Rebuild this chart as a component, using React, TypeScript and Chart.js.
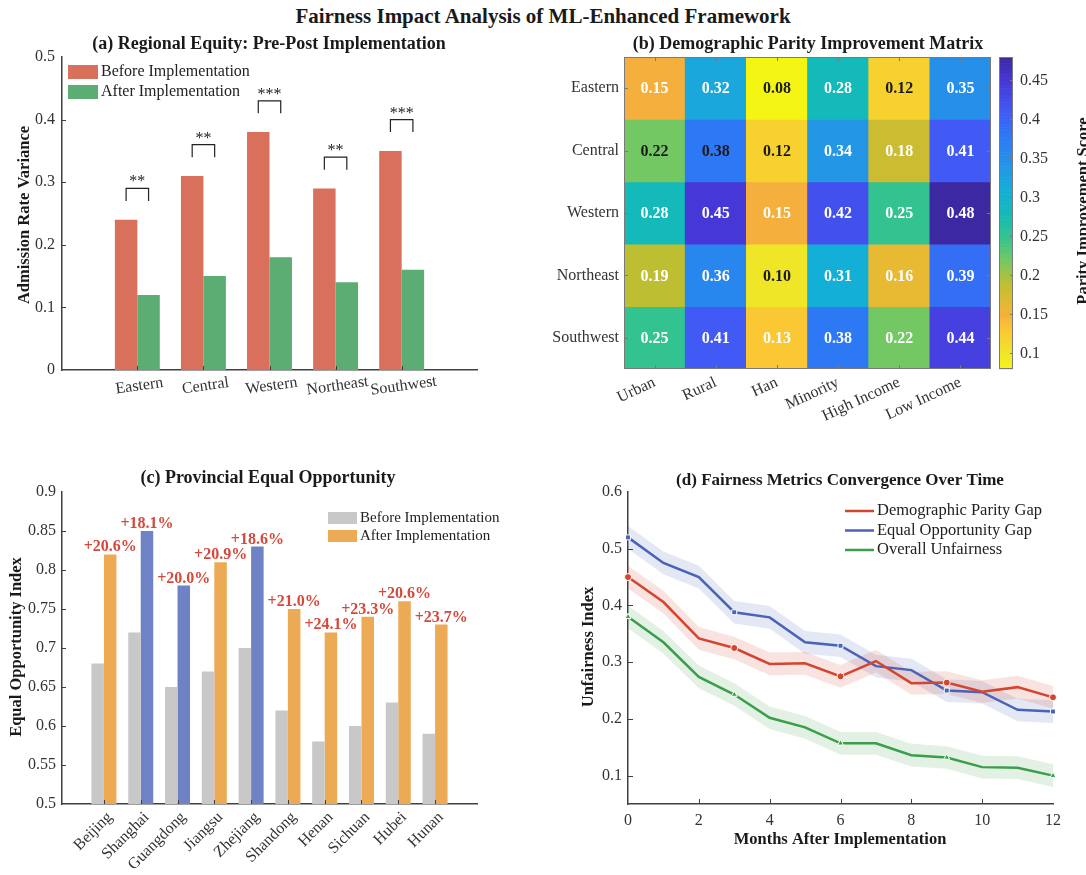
import React, { useEffect, useRef } from 'react';
import { Chart, registerables } from 'chart.js';

Chart.register(...registerables);

const SERIF = '"Liberation Serif", "Times New Roman", Times, serif';
Chart.defaults.font.family = SERIF;
Chart.defaults.color = '#333333';

const AXIS_COLOR = '#404040';
const TEXT_COLOR = '#333333';
const TITLE_COLOR = '#1a1a1a';

// ---------- Panel (a) data ----------
const regionNames = ['Eastern', 'Central', 'Western', 'Northeast', 'Southwest'];
const regionBefore = [0.24, 0.31, 0.38, 0.29, 0.35];
const regionAfter = [0.12, 0.15, 0.18, 0.14, 0.16];
const regionStars = ['**', '**', '***', '**', '***'];
const regionTicks = [0, 0.1, 0.2, 0.3, 0.4, 0.5];

// ---------- Panel (b) data ----------
const groupNames = ['Urban', 'Rural', 'Han', 'Minority', 'High Income', 'Low Income'];
const parityEastern = [0.15, 0.32, 0.08, 0.28, 0.12, 0.35];
const parityCentral = [0.22, 0.38, 0.12, 0.34, 0.18, 0.41];
const parityWestern = [0.28, 0.45, 0.15, 0.42, 0.25, 0.48];
const parityNortheast = [0.19, 0.36, 0.1, 0.31, 0.16, 0.39];
const paritySouthwest = [0.25, 0.41, 0.13, 0.38, 0.22, 0.44];
const parityRows = [parityEastern, parityCentral, parityWestern, parityNortheast, paritySouthwest];
const parityDarkLabels = ['0-2', '0-4', '1-0', '1-1', '1-2', '3-2'];
const colorbarTicks = [0.1, 0.15, 0.2, 0.25, 0.3, 0.35, 0.4, 0.45];
const colorbarMin = 0.08;
const colorbarMax = 0.48;

// ---------- Panel (c) data ----------
const provinceNames = ['Beijing', 'Shanghai', 'Guangdong', 'Jiangsu', 'Zhejiang', 'Shandong', 'Henan', 'Sichuan', 'Hubei', 'Hunan'];
const provinceBefore = [0.68, 0.72, 0.65, 0.67, 0.7, 0.62, 0.58, 0.6, 0.63, 0.59];
const provinceAfter = [0.82, 0.85, 0.78, 0.81, 0.83, 0.75, 0.72, 0.74, 0.76, 0.73];
const highlightedProvinces = ['Shanghai', 'Guangdong', 'Zhejiang'];
const provinceTicks = [0.5, 0.55, 0.6, 0.65, 0.7, 0.75, 0.8, 0.85, 0.9];

// ---------- Panel (d) data ----------
const months = [0, 1, 2, 3, 4, 5, 6, 7, 8, 9, 10, 11, 12];
const demographicParityGap = [0.45, 0.406, 0.342, 0.325, 0.297, 0.298, 0.275, 0.302, 0.263, 0.264, 0.248, 0.256, 0.238];
const equalOpportunityGap = [0.52, 0.475, 0.45, 0.388, 0.379, 0.335, 0.329, 0.293, 0.286, 0.25, 0.247, 0.216, 0.213];
const overallUnfairness = [0.38, 0.335, 0.274, 0.243, 0.202, 0.185, 0.157, 0.157, 0.136, 0.132, 0.115, 0.114, 0.1];
const bandHalfWidth = 0.02;
const markerMonths = [0, 3, 6, 9, 12];
const monthTicks = [0, 2, 4, 6, 8, 10, 12];
const unfairTicks = [0.1, 0.2, 0.3, 0.4, 0.5, 0.6];

// ---------- colours ----------
const RED_BAR = '#D9705B';
const GREEN_BAR = '#5BAD73';
const GRAY_BAR = '#C8C8C8';
const ORANGE_BAR = '#EDAA55';
const BLUE_BAR = '#6F82C6';
const PCT_RED = '#D5483A';
const LINE_RED = '#D4452F';
const LINE_BLUE = '#4863B8';
const LINE_GREEN = '#3A9E4B';

// parula-like colormap (position from high value end -> low value end)
const CMAP: [number, number, number, number][] = [
  [0, 60, 40, 160],
  [0.075, 70, 55, 215],
  [0.175, 65, 90, 245],
  [0.25, 45, 120, 245],
  [0.35, 35, 150, 230],
  [0.425, 20, 175, 215],
  [0.5, 20, 185, 185],
  [0.575, 50, 195, 145],
  [0.65, 115, 200, 100],
  [0.725, 190, 190, 50],
  [0.8, 232, 185, 50],
  [0.825, 245, 175, 60],
  [0.875, 250, 200, 50],
  [0.95, 240, 230, 40],
  [1, 245, 245, 20],
];

function parulaRev(v: number): string {
  const s = 1 - Math.min(1, Math.max(0, (v - colorbarMin) / (colorbarMax - colorbarMin)));
  let i = 0;
  while (i < CMAP.length - 2 && s > CMAP[i + 1][0]) i++;
  const a = CMAP[i];
  const b = CMAP[i + 1];
  const f = Math.min(1, Math.max(0, (s - a[0]) / (b[0] - a[0])));
  const c = [1, 2, 3].map((k) => Math.round(a[k] + (b[k] - a[k]) * f));
  return `rgb(${c[0]},${c[1]},${c[2]})`;
}

function fmtTick(v: any) {
  return String(+Number(v).toFixed(2));
}

type TextOpts = {
  size?: number;
  bold?: boolean;
  color?: string;
  align?: CanvasTextAlign;
  baseline?: CanvasTextBaseline;
  angle?: number;
};

function drawText(ctx: CanvasRenderingContext2D, text: string, x: number, y: number, o: TextOpts = {}) {
  ctx.save();
  ctx.font = `${o.bold ? 'bold ' : ''}${o.size ?? 16}px ${SERIF}`;
  ctx.fillStyle = o.color ?? TEXT_COLOR;
  ctx.textAlign = o.align ?? 'center';
  ctx.textBaseline = o.baseline ?? 'middle';
  ctx.translate(x, y);
  if (o.angle) ctx.rotate((o.angle * Math.PI) / 180);
  ctx.fillText(text, 0, 0);
  ctx.restore();
}

function inwardTicks(chart: any, xVals: number[], yVals: number[], len = 5) {
  const { ctx, chartArea } = chart;
  const xs = chart.scales.x;
  const ys = chart.scales.y;
  ctx.save();
  ctx.strokeStyle = AXIS_COLOR;
  ctx.lineWidth = 1;
  ctx.beginPath();
  xVals.forEach((v) => {
    const px = Math.round(xs.getPixelForValue(v)) + 0.5;
    ctx.moveTo(px, chartArea.bottom);
    ctx.lineTo(px, chartArea.bottom - len);
  });
  yVals.forEach((v) => {
    const py = Math.round(ys.getPixelForValue(v)) + 0.5;
    ctx.moveTo(chartArea.left, py);
    ctx.lineTo(chartArea.left + len, py);
  });
  ctx.stroke();
  ctx.restore();
}

function fixSize(prop: 'width' | 'height', size: number) {
  return (s: any) => {
    s[prop] = size;
    s.paddingTop = 0;
    s.paddingBottom = 0;
    s.paddingLeft = 0;
    s.paddingRight = 0;
  };
}

const baseOptions = {
  responsive: false,
  maintainAspectRatio: false,
  animation: false,
  devicePixelRatio: 1,
  events: [] as any[],
};

const TITLE_SIZE = 18;
const LABEL_SIZE = 16.5;

// ---------- Panel (a) ----------
const regionalPlugin = {
  id: 'regionalPlugin',
  afterDraw(chart: any) {
    const { ctx, chartArea } = chart;
    const xs = chart.scales.x;
    const ys = chart.scales.y;
    drawText(ctx, '(a) Regional Equity: Pre-Post Implementation', 269, 14, { bold: true, size: TITLE_SIZE, color: TITLE_COLOR });
    drawText(ctx, 'Admission Rate Variance', 25, 185, { bold: true, size: LABEL_SIZE, color: TITLE_COLOR, angle: -90 });
    regionNames.forEach((n, i) => {
      drawText(ctx, n, xs.getPixelForValue(i + 1) + 2, chartArea.bottom + 16, { size: 16, angle: -8 });
    });
    // legend
    ctx.fillStyle = RED_BAR;
    ctx.fillRect(68, 35, 30, 14);
    ctx.fillStyle = GREEN_BAR;
    ctx.fillRect(68, 55, 30, 14);
    drawText(ctx, 'Before Implementation', 101, 42, { size: 16, align: 'left', color: '#222' });
    drawText(ctx, 'After Implementation', 101, 62, { size: 16, align: 'left', color: '#222' });
    // significance brackets
    const m0 = chart.getDatasetMeta(0);
    const m1 = chart.getDatasetMeta(1);
    ctx.save();
    ctx.strokeStyle = '#222';
    ctx.lineWidth = 1.2;
    regionBefore.forEach((b, i) => {
      const x0 = m0.data[i].x;
      const x1 = m1.data[i].x;
      const yTop = ys.getPixelForValue(b + 0.05);
      const yLeg = ys.getPixelForValue(b + 0.03);
      ctx.beginPath();
      ctx.moveTo(x0, yLeg);
      ctx.lineTo(x0, yTop);
      ctx.lineTo(x1, yTop);
      ctx.lineTo(x1, yLeg);
      ctx.stroke();
      drawText(ctx, regionStars[i], (x0 + x1) / 2, yTop - 2, { size: 16, baseline: 'alphabetic', color: '#222' });
    });
    ctx.restore();
    inwardTicks(chart, regionNames.map((_, i) => i + 1), regionTicks.slice(1, -1), 4);
  },
};

function buildRegional(): any {
  return {
    type: 'bar',
    data: {
      datasets: [
        {
          label: 'Before Implementation',
          data: regionNames.map((_, i) => ({ x: i + 1, y: regionBefore[i] })),
          backgroundColor: RED_BAR,
          categoryPercentage: 0.68,
          barPercentage: 1,
        },
        {
          label: 'After Implementation',
          data: regionNames.map((_, i) => ({ x: i + 1, y: regionAfter[i] })),
          backgroundColor: GREEN_BAR,
          categoryPercentage: 0.68,
          barPercentage: 1,
        },
      ],
    },
    options: {
      ...baseOptions,
      layout: { padding: { left: 0, right: 63, top: 27, bottom: 0 } },
      plugins: { legend: { display: false }, tooltip: { enabled: false } },
      scales: {
        x: {
          type: 'linear',
          offset: false,
          min: -0.14,
          max: 6.14,
          afterBuildTicks: (s: any) => {
            s.ticks = regionNames.map((_, i) => ({ value: i + 1 }));
          },
          ticks: { display: false },
          grid: { display: false, drawTicks: false, offset: false },
          border: { color: AXIS_COLOR, width: 1.5 },
          afterFit: fixSize('height', 60),
        },
        y: {
          type: 'linear',
          min: 0,
          max: 0.5,
          afterBuildTicks: (s: any) => {
            s.ticks = regionTicks.map((v) => ({ value: v }));
          },
          ticks: { font: { size: 16 }, color: TEXT_COLOR, padding: 7, callback: fmtTick },
          grid: { display: false, drawTicks: false },
          border: { color: AXIS_COLOR, width: 1.5 },
          afterFit: fixSize('width', 62),
        },
      },
    },
    plugins: [regionalPlugin],
  };
}

// ---------- Panel (b) ----------
const heatPlugin = {
  id: 'heatPlugin',
  afterDraw(chart: any) {
    const { ctx, chartArea } = chart;
    const xs = chart.scales.x;
    const ys = chart.scales.y;
    const cb = chart.scales.cb;
    drawText(ctx, '(b) Demographic Parity Improvement Matrix', 268, 14, { bold: true, size: TITLE_SIZE, color: TITLE_COLOR });
    parityRows.forEach((row, r) => {
      row.forEach((v, c) => {
        const dark = parityDarkLabels.includes(`${r}-${c}`);
        drawText(ctx, v.toFixed(2), xs.getPixelForValue(c), ys.getPixelForValue(r + 0.5) + 1, {
          bold: true,
          size: 16,
          color: dark ? '#1a1a1a' : '#ffffff',
        });
      });
    });
    // frame
    ctx.save();
    ctx.strokeStyle = '#7a7a7a';
    ctx.lineWidth = 1;
    ctx.strokeRect(chartArea.left + 0.5, chartArea.top + 0.5, chartArea.right - chartArea.left - 1, chartArea.bottom - chartArea.top - 1);
    ctx.beginPath();
    groupNames.forEach((_, c) => {
      const px = Math.round(xs.getPixelForValue(c)) + 0.5;
      ctx.moveTo(px, chartArea.bottom);
      ctx.lineTo(px, chartArea.bottom - 4);
      ctx.moveTo(px, chartArea.top);
      ctx.lineTo(px, chartArea.top + 4);
    });
    parityRows.forEach((_, r) => {
      const py = Math.round(ys.getPixelForValue(r + 0.5)) + 0.5;
      ctx.moveTo(chartArea.left, py);
      ctx.lineTo(chartArea.left + 4, py);
      ctx.moveTo(chartArea.right, py);
      ctx.lineTo(chartArea.right - 4, py);
    });
    ctx.stroke();
    // colorbar
    const x0 = chartArea.right + 8;
    const w = 14;
    const steps = 200;
    for (let k = 0; k < steps; k++) {
      const v0 = colorbarMin + ((colorbarMax - colorbarMin) * k) / steps;
      const v1 = colorbarMin + ((colorbarMax - colorbarMin) * (k + 1)) / steps;
      const y0 = cb.getPixelForValue(v0);
      const y1 = cb.getPixelForValue(v1);
      ctx.fillStyle = parulaRev((v0 + v1) / 2);
      ctx.fillRect(x0, y1, w, y0 - y1 + 0.6);
    }
    const yTop = cb.getPixelForValue(colorbarMax);
    const yBot = cb.getPixelForValue(colorbarMin);
    ctx.strokeStyle = '#7a7a7a';
    ctx.strokeRect(x0 + 0.5, yTop + 0.5, w - 1, yBot - yTop - 1);
    ctx.beginPath();
    colorbarTicks.forEach((v) => {
      const py = Math.round(cb.getPixelForValue(v)) + 0.5;
      ctx.moveTo(x0 + w, py);
      ctx.lineTo(x0 + w - 3, py);
    });
    ctx.stroke();
    ctx.restore();
    drawText(ctx, 'Parity Improvement Score', 548, 181, { bold: true, size: LABEL_SIZE, color: TITLE_COLOR, angle: -90, baseline: 'alphabetic' });
  },
};

function buildHeatmap(): any {
  return {
    type: 'bar',
    data: {
      labels: groupNames,
      datasets: parityRows.map((row, r) => ({
        label: regionNames[r],
        data: row.map(() => [r, r + 1]),
        backgroundColor: row.map((v) => parulaRev(v)),
        borderWidth: 0,
        categoryPercentage: 1,
        barPercentage: 1,
        grouped: false,
      })),
    },
    options: {
      ...baseOptions,
      layout: { padding: { left: 0, right: 0, top: 27, bottom: 0 } },
      plugins: { legend: { display: false }, tooltip: { enabled: false } },
      scales: {
        x: {
          type: 'category',
          offset: true,
          ticks: { font: { size: 16 }, color: TEXT_COLOR, minRotation: 25, maxRotation: 25, padding: 4, autoSkip: false },
          grid: { display: false, drawTicks: false },
          border: { display: false },
          afterFit: fixSize('height', 61),
        },
        y: {
          type: 'linear',
          min: 0,
          max: 5,
          reverse: true,
          afterBuildTicks: (s: any) => {
            s.ticks = regionNames.map((_, i) => ({ value: i + 0.5 }));
          },
          ticks: { font: { size: 16 }, color: TEXT_COLOR, padding: 5, callback: (v: any) => regionNames[Math.floor(v)] },
          grid: { display: false, drawTicks: false },
          border: { display: false },
          afterFit: fixSize('width', 84),
        },
        cb: {
          type: 'linear',
          position: 'right',
          min: colorbarMin,
          max: colorbarMax,
          afterBuildTicks: (s: any) => {
            s.ticks = colorbarTicks.map((v) => ({ value: v }));
          },
          ticks: { font: { size: 16 }, color: TEXT_COLOR, padding: 29, callback: fmtTick },
          grid: { display: false, drawTicks: false },
          border: { display: false },
          afterFit: fixSize('width', 95),
        },
      },
    },
    plugins: [heatPlugin],
  };
}

// ---------- Panel (c) ----------
const provincePlugin = {
  id: 'provincePlugin',
  afterDraw(chart: any) {
    const { ctx } = chart;
    drawText(ctx, '(c) Provincial Equal Opportunity', 268, 18, { bold: true, size: TITLE_SIZE, color: TITLE_COLOR });
    drawText(ctx, 'Equal Opportunity Index', 17, 187, { bold: true, size: LABEL_SIZE, color: TITLE_COLOR, angle: -90 });
    ctx.fillStyle = GRAY_BAR;
    ctx.fillRect(328, 52, 29, 12);
    ctx.fillStyle = ORANGE_BAR;
    ctx.fillRect(328, 70, 29, 12);
    drawText(ctx, 'Before Implementation', 360, 58, { size: 15, align: 'left', color: '#222' });
    drawText(ctx, 'After Implementation', 360, 76, { size: 15, align: 'left', color: '#222' });
    const m1 = chart.getDatasetMeta(1);
    provinceAfter.forEach((a, i) => {
      const pct = '+' + ((a / provinceBefore[i] - 1) * 100).toFixed(1) + '%';
      const el = m1.data[i];
      drawText(ctx, pct, el.x, el.y - 3, { bold: true, size: 16, color: PCT_RED, baseline: 'alphabetic' });
    });
    inwardTicks(chart, provinceNames.map((_, i) => i + 1), provinceTicks.slice(1, -1), 4);
  },
};

function buildProvince(): any {
  return {
    type: 'bar',
    data: {
      datasets: [
        {
          label: 'Before Implementation',
          data: provinceNames.map((_, i) => ({ x: i + 1, y: provinceBefore[i] })),
          backgroundColor: GRAY_BAR,
          categoryPercentage: 0.68,
          barPercentage: 1,
        },
        {
          label: 'After Implementation',
          data: provinceNames.map((_, i) => ({ x: i + 1, y: provinceAfter[i] })),
          backgroundColor: provinceNames.map((n) => (highlightedProvinces.includes(n) ? BLUE_BAR : ORANGE_BAR)),
          categoryPercentage: 0.68,
          barPercentage: 1,
        },
      ],
    },
    options: {
      ...baseOptions,
      layout: { padding: { left: 0, right: 63, top: 32, bottom: 0 } },
      plugins: { legend: { display: false }, tooltip: { enabled: false } },
      scales: {
        x: {
          type: 'linear',
          offset: false,
          min: -0.14,
          max: 11.14,
          afterBuildTicks: (s: any) => {
            s.ticks = provinceNames.map((_, i) => ({ value: i + 1 }));
          },
          ticks: {
            font: { size: 16 },
            color: TEXT_COLOR,
            minRotation: 45,
            maxRotation: 45,
            autoSkip: false,
            padding: 4,
            labelOffset: 6,
            callback: (v: any) => provinceNames[Math.round(v) - 1],
          },
          grid: { display: false, drawTicks: false, offset: false },
          border: { color: AXIS_COLOR, width: 1.5 },
          afterFit: fixSize('height', 71),
        },
        y: {
          type: 'linear',
          min: 0.5,
          max: 0.9,
          afterBuildTicks: (s: any) => {
            s.ticks = provinceTicks.map((v) => ({ value: v }));
          },
          ticks: { font: { size: 16 }, color: TEXT_COLOR, padding: 6, callback: fmtTick },
          grid: { display: false, drawTicks: false },
          border: { color: AXIS_COLOR, width: 1.5 },
          afterFit: fixSize('width', 62),
        },
      },
    },
    plugins: [provincePlugin],
  };
}

// ---------- Panel (d) ----------
const convergencePlugin = {
  id: 'convergencePlugin',
  afterDraw(chart: any) {
    const { ctx } = chart;
    drawText(ctx, '(d) Fairness Metrics Convergence Over Time', 280, 21, { bold: true, size: 17, color: TITLE_COLOR });
    drawText(ctx, 'Months After Implementation', 280, 380, { bold: true, size: LABEL_SIZE, color: TITLE_COLOR });
    drawText(ctx, 'Unfairness Index', 29, 187, { bold: true, size: LABEL_SIZE, color: TITLE_COLOR, angle: -90 });
    const items: [string, string][] = [
      ['Demographic Parity Gap', LINE_RED],
      ['Equal Opportunity Gap', LINE_BLUE],
      ['Overall Unfairness', LINE_GREEN],
    ];
    items.forEach(([label, color], i) => {
      const y = 51 + i * 19.5;
      ctx.save();
      ctx.strokeStyle = color;
      ctx.lineWidth = 2.5;
      ctx.beginPath();
      ctx.moveTo(285, y);
      ctx.lineTo(314, y);
      ctx.stroke();
      ctx.restore();
      drawText(ctx, label, 317, y, { size: LABEL_SIZE, align: 'left', color: '#222' });
    });
    inwardTicks(chart, monthTicks.slice(1, -1), unfairTicks.slice(0, -1), 5);
  },
};

function lineSet(label: string, values: number[], color: string, style: string) {
  return {
    label,
    data: months.map((m, i) => ({ x: m, y: values[i] })),
    borderColor: color,
    backgroundColor: color,
    borderWidth: 2.5,
    tension: 0,
    fill: false,
    clip: false,
    pointStyle: style,
    pointRadius: months.map((m) => (markerMonths.includes(m) ? 3.5 : 0)),
    pointBackgroundColor: color,
    pointBorderColor: '#ffffff',
    pointBorderWidth: 1,
  };
}

function bandSets(values: number[], fillColor: string) {
  return [
    {
      label: 'band-upper',
      data: months.map((m, i) => ({ x: m, y: values[i] + bandHalfWidth })),
      borderWidth: 0,
      pointRadius: 0,
      backgroundColor: fillColor,
      fill: '+1',
      tension: 0,
    },
    {
      label: 'band-lower',
      data: months.map((m, i) => ({ x: m, y: values[i] - bandHalfWidth })),
      borderWidth: 0,
      pointRadius: 0,
      backgroundColor: fillColor,
      fill: false,
      tension: 0,
    },
  ];
}

function buildConvergence(): any {
  return {
    type: 'line',
    data: {
      datasets: [
        lineSet('Demographic Parity Gap', demographicParityGap, LINE_RED, 'circle'),
        lineSet('Equal Opportunity Gap', equalOpportunityGap, LINE_BLUE, 'rect'),
        lineSet('Overall Unfairness', overallUnfairness, LINE_GREEN, 'triangle'),
        ...bandSets(demographicParityGap, 'rgba(212,69,47,0.15)'),
        ...bandSets(equalOpportunityGap, 'rgba(72,99,184,0.15)'),
        ...bandSets(overallUnfairness, 'rgba(58,158,75,0.15)'),
      ],
    },
    options: {
      ...baseOptions,
      layout: { padding: { left: 0, right: 33, top: 32, bottom: 0 } },
      plugins: { legend: { display: false }, tooltip: { enabled: false } },
      scales: {
        x: {
          type: 'linear',
          min: 0,
          max: 12,
          afterBuildTicks: (s: any) => {
            s.ticks = monthTicks.map((v) => ({ value: v }));
          },
          ticks: { font: { size: 16 }, color: TEXT_COLOR, padding: 7, maxRotation: 0 },
          grid: { display: false, drawTicks: false },
          border: { color: AXIS_COLOR, width: 1.5 },
          afterFit: fixSize('height', 71),
        },
        y: {
          type: 'linear',
          min: 0.05,
          max: 0.6,
          afterBuildTicks: (s: any) => {
            s.ticks = unfairTicks.map((v) => ({ value: v }));
          },
          ticks: { font: { size: 16 }, color: TEXT_COLOR, padding: 6, callback: fmtTick },
          grid: { display: false, drawTicks: false },
          border: { color: AXIS_COLOR, width: 1.5 },
          afterFit: fixSize('width', 68),
        },
      },
    },
    plugins: [convergencePlugin],
  };
}

function ChartPanel({ left, top, width, height, build }: { left: number; top: number; width: number; height: number; build: () => any }) {
  const ref = useRef<HTMLCanvasElement | null>(null);
  useEffect(() => {
    if (!ref.current) return;
    const chart = new Chart(ref.current, build());
    return () => chart.destroy();
  }, [build]);
  return (
    <div style={{ position: 'absolute', left, top, width, height }}>
      <canvas ref={ref} width={width} height={height} style={{ display: 'block', width, height }} />
    </div>
  );
}

export default function App() {
  return (
    <div style={{ position: 'fixed', left: 0, top: 0, width: 1086, height: 875, background: '#ffffff', overflow: 'hidden' }}>
      <div
        style={{
          position: 'absolute',
          left: 0,
          top: 4,
          width: 1086,
          textAlign: 'center',
          fontFamily: SERIF,
          fontWeight: 'bold',
          fontSize: 21,
          lineHeight: '24px',
          color: TITLE_COLOR,
        }}
      >
        Fairness Impact Analysis of ML-Enhanced Framework
      </div>
      <ChartPanel left={0} top={30} width={540} height={400} build={buildRegional} />
      <ChartPanel left={540} top={30} width={546} height={400} build={buildHeatmap} />
      <ChartPanel left={0} top={460} width={540} height={415} build={buildProvince} />
      <ChartPanel left={560} top={460} width={526} height={415} build={buildConvergence} />
    </div>
  );
}
